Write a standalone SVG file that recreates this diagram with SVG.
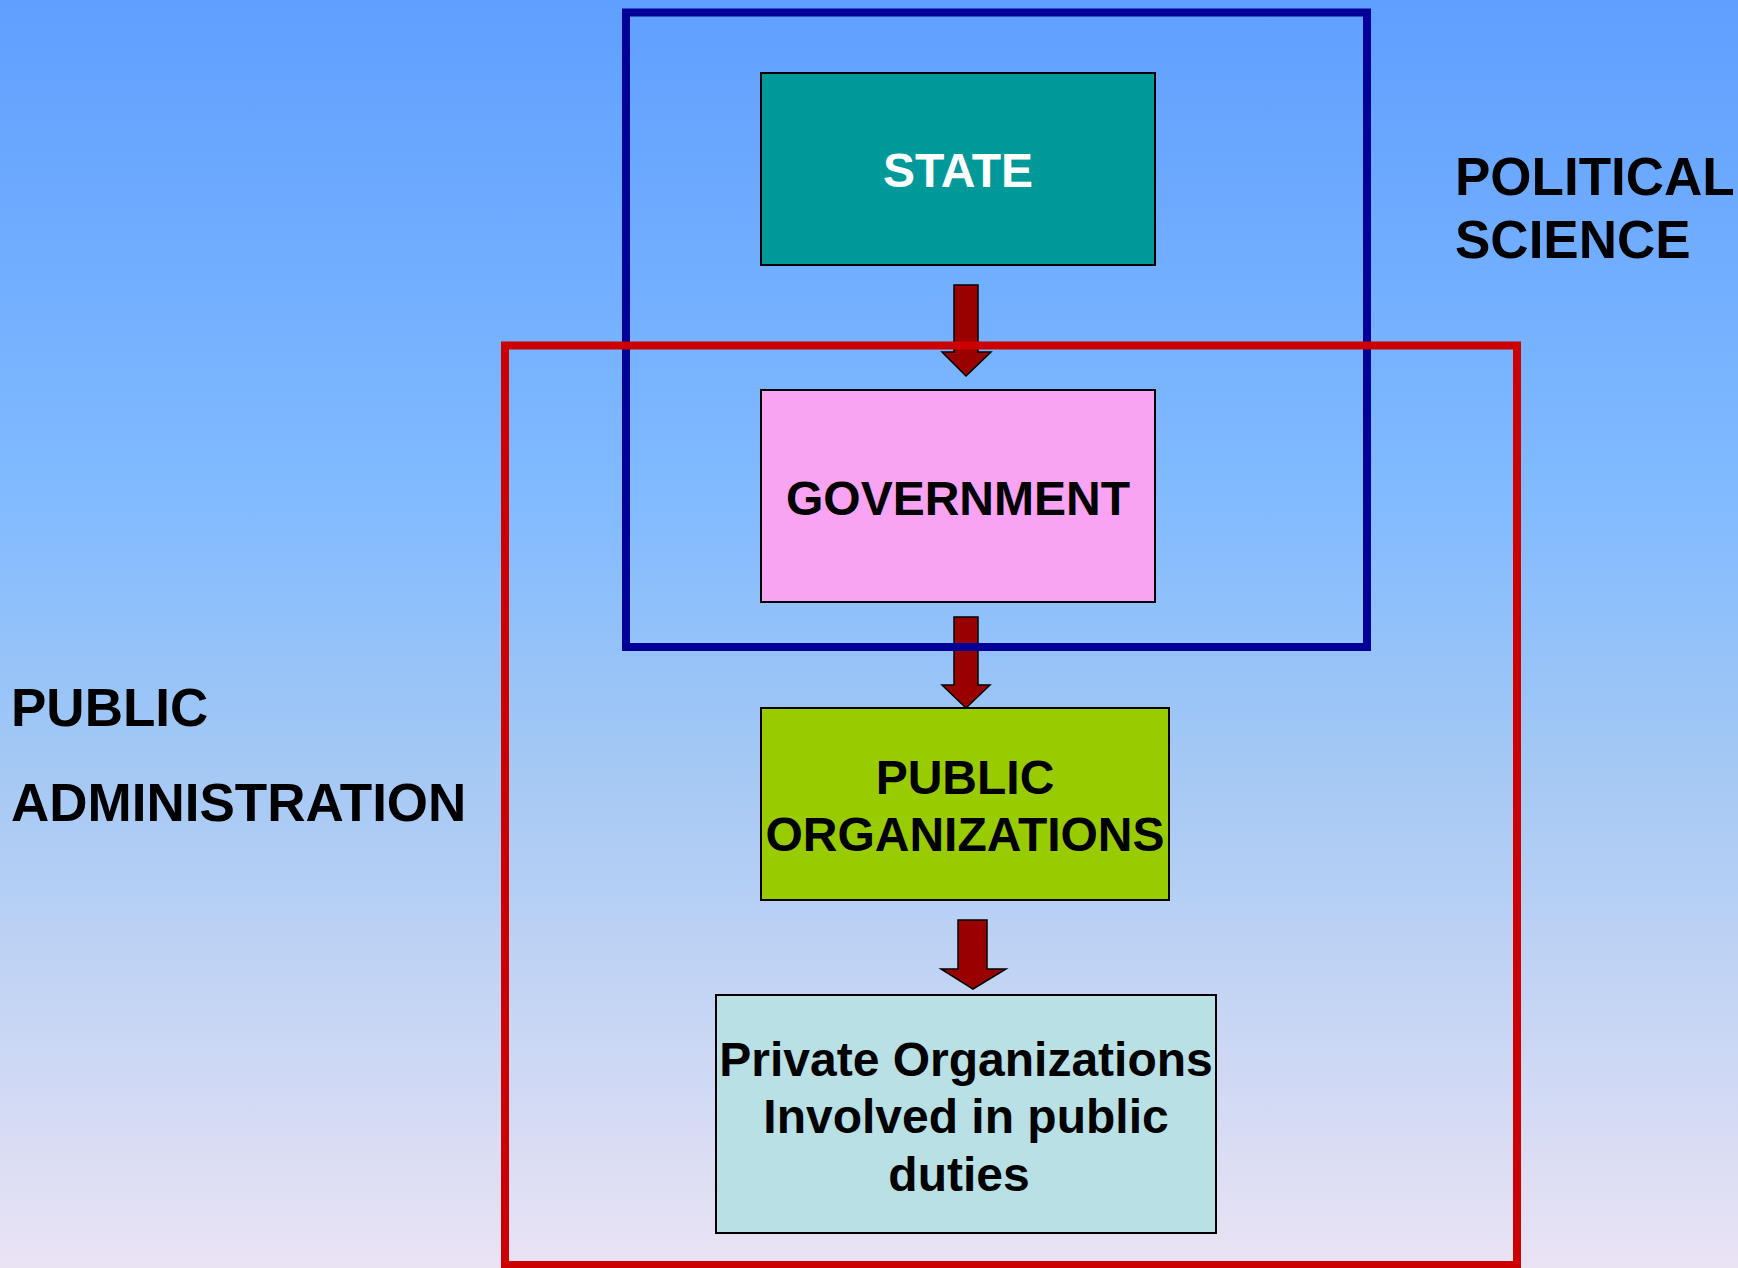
<svg xmlns="http://www.w3.org/2000/svg" width="1738" height="1268" viewBox="0 0 1738 1268">
<defs>
<linearGradient id="bg" x1="0" y1="0" x2="0" y2="1">
<stop offset="0" stop-color="#5F9FFF"/>
<stop offset="0.4" stop-color="#82BBFF"/>
<stop offset="0.6" stop-color="#A3C8F4"/>
<stop offset="1" stop-color="#EAE3F4"/>
</linearGradient>
<style>
.box{stroke:#000;stroke-width:2}
.t{font-family:"Liberation Sans",Arial,sans-serif;font-weight:bold;font-size:48px;text-anchor:middle;fill:#000}
.lbl{font-family:"Liberation Sans",Arial,sans-serif;font-weight:bold;font-size:53px;fill:#000}
.arr{fill:#990000;stroke:#000;stroke-width:1.5}
.frame{fill:none;stroke-width:8}
</style>
</defs>
<rect x="0" y="0" width="1738" height="1268" fill="url(#bg)"/>
<g id="connectors">
<path class="arr" d="M954,285 H978 V352 H991 L966,376 L942,352 H954 Z"/>
<path class="arr" d="M954,617 H978 V685 H990 L966,708 L942,685 H954 Z"/>
<path class="arr" d="M958,920 H987 V969 H1006 L973,989 L941,969 H958 Z"/>
</g>
<g id="state">
<rect class="box" x="761" y="73" width="394" height="192" fill="#009999"/>
<text class="t" x="958" y="187" style="fill:#fff">STATE</text>
</g>
<g id="government">
<rect class="box" x="761" y="390" width="394" height="212" fill="#F9A3F3"/>
<text class="t" x="958" y="515">GOVERNMENT</text>
</g>
<g id="public-organizations">
<rect class="box" x="761" y="708" width="408" height="192" fill="#99CC00"/>
<text class="t" x="965" y="794">PUBLIC</text>
<text class="t" x="965" y="851">ORGANIZATIONS</text>
</g>
<g id="private-organizations">
<rect class="box" x="716" y="995" width="500" height="238" fill="#B9E0E4"/>
<text class="t" x="966" y="1076">Private Organizations</text>
<text class="t" x="966" y="1133">Involved in public</text>
<text class="t" x="959" y="1191">duties</text>
</g>
<g id="political-science">
<rect class="frame" x="626" y="12.5" width="741" height="634.5" stroke="#000099"/>
<text class="lbl" x="1455" y="195">POLITICAL</text>
<text class="lbl" x="1455" y="258">SCIENCE</text>
</g>
<g id="public-administration">
<rect class="frame" x="505" y="345.5" width="1012" height="919.5" stroke="#CC0000"/>
<text class="lbl" x="11" y="726">PUBLIC</text>
<text class="lbl" x="11" y="821">ADMINISTRATION</text>
</g>
</svg>
